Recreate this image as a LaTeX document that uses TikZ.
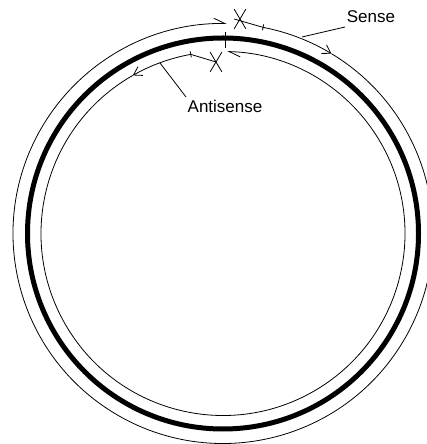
\documentclass[tikz,border=0pt]{standalone}
\usepackage{fontspec}
\setmainfont{Liberation Sans}
\usetikzlibrary{arrows.meta,shapes.misc,calc}
\begin{document}
\begin{tikzpicture}[x=1pt,y=1pt,
  thin strand/.style={line width=0.8pt},
  xmark/.style={cross out,draw,line width=0.8pt,minimum width=11pt,minimum height=19pt,inner sep=0pt},
  lbl/.style={font=\fontsize{17}{20}\selectfont,inner sep=0pt},
  fulltip/.style={-{Straight Barb[length=8pt,width=10pt,line width=0.8pt]}},
  halftip/.style={-{Straight Barb[left,length=11pt,width=10pt,line width=0.8pt]}}]
\useasboundingbox (0,0) rectangle (427,444);
\coordinate (c) at (223,210.5);
% thick circle (DNA)
\draw[line width=5pt] (c) circle[radius=195.5];
\draw[line width=0.8pt] (225,412) -- (225,396);
% outer (sense) strand
\node[xmark] (xo) at (240,425) {};
\coordinate (to) at ($(c)+(79:210)$);
\draw[thin strand] (xo.west) -- (to);
\draw[thin strand] ($(c)+(79:207)$) -- ($(c)+(79:213)$);
\draw[thin strand,fulltip] (to) arc[start angle=79,end angle=58.9,radius=210] coordinate (mo);
\draw[thin strand,halftip] (mo) arc[start angle=58.9,end angle=-271,radius=210] coordinate (eo);
% inner (antisense) strand
\node[xmark] (xi) at (216,382) {};
\coordinate (ti) at ($(c)+(100.2:182)$);
\draw[thin strand] (xi.center) -- (ti);
\draw[thin strand] ($(c)+(100.2:179)$) -- ($(c)+(100.2:185)$);
\draw[thin strand,fulltip] (ti) arc[start angle=100.2,end angle=119.7,radius=182] coordinate (mi);
\draw[thin strand,halftip] (mi) arc[start angle=119.7,end angle=448.6,radius=182] coordinate (ei);
% labels
\node[lbl] (sense) at (371,427) {Sense};
\coordinate (ps) at (302,407);
\draw[thin strand] (345,417) -- (ps);
\node[lbl] (anti) at (225,338) {Antisense};
\coordinate (pa) at (160,381);
\draw[thin strand] (186,347) -- (pa);
\end{tikzpicture}
\end{document}
